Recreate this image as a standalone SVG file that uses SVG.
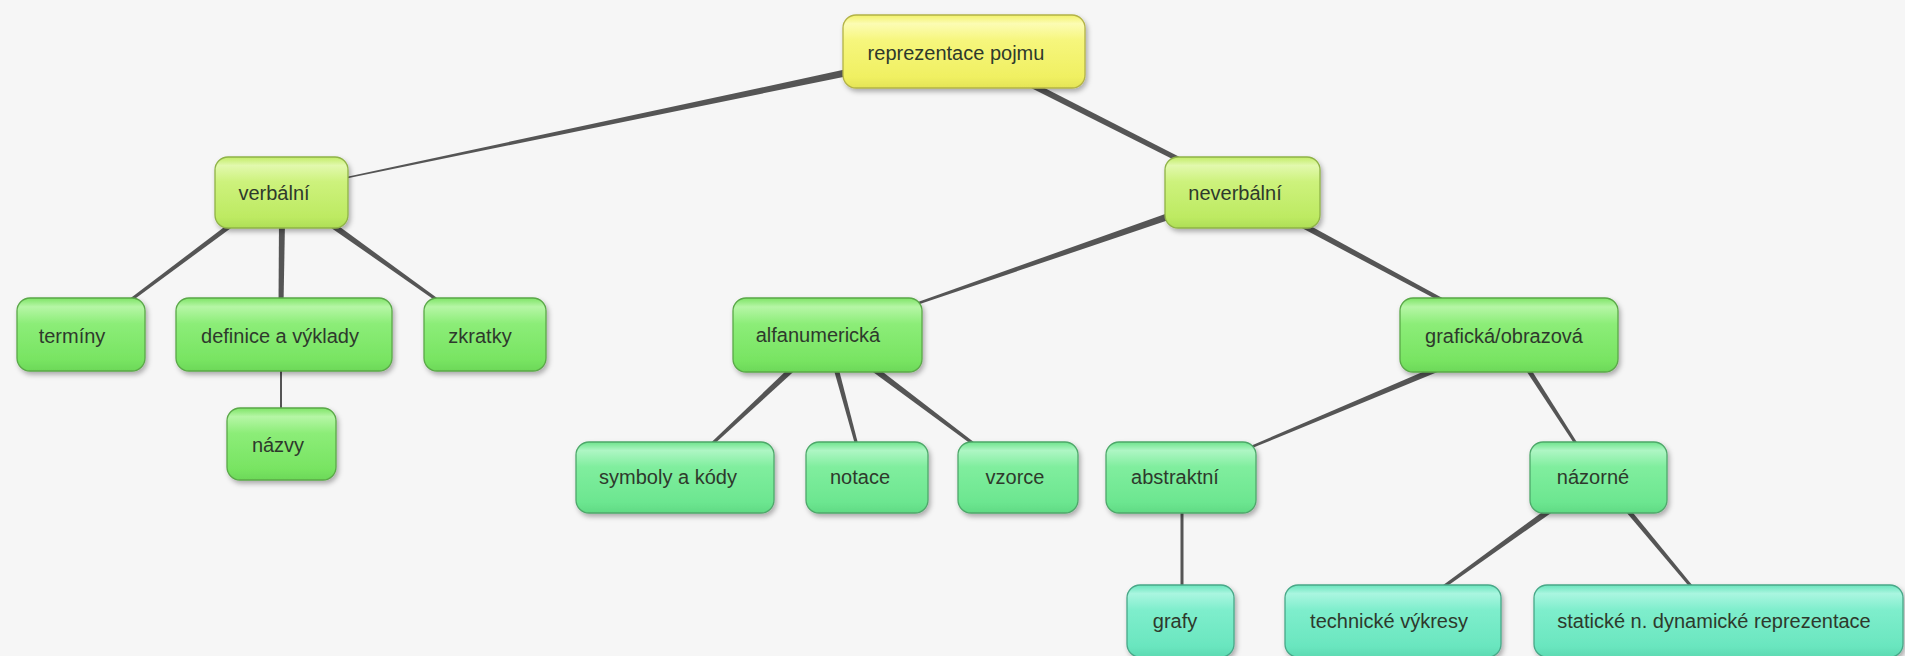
<svg xmlns="http://www.w3.org/2000/svg" width="1905" height="656" viewBox="0 0 1905 656">
<defs>
<linearGradient id="gY" x1="0" y1="0" x2="0" y2="1"><stop offset="0" stop-color="#f2f26a"/><stop offset="0.12" stop-color="#fcfcb4"/><stop offset="0.35" stop-color="#f6f67c"/><stop offset="0.85" stop-color="#f0f062"/><stop offset="1" stop-color="#e4e456"/></linearGradient>
<linearGradient id="g1" x1="0" y1="0" x2="0" y2="1"><stop offset="0" stop-color="#c2ec66"/><stop offset="0.12" stop-color="#e2f9ae"/><stop offset="0.35" stop-color="#cdf27c"/><stop offset="0.85" stop-color="#bdea62"/><stop offset="1" stop-color="#aede56"/></linearGradient>
<linearGradient id="g2" x1="0" y1="0" x2="0" y2="1"><stop offset="0" stop-color="#7ee466"/><stop offset="0.12" stop-color="#b6f6a6"/><stop offset="0.35" stop-color="#8ced78"/><stop offset="0.85" stop-color="#78e462"/><stop offset="1" stop-color="#6cd858"/></linearGradient>
<linearGradient id="g3" x1="0" y1="0" x2="0" y2="1"><stop offset="0" stop-color="#6ee48c"/><stop offset="0.12" stop-color="#aef6c4"/><stop offset="0.35" stop-color="#80ee9e"/><stop offset="0.85" stop-color="#6ce690"/><stop offset="1" stop-color="#60da84"/></linearGradient>
<linearGradient id="g4" x1="0" y1="0" x2="0" y2="1"><stop offset="0" stop-color="#68e4bc"/><stop offset="0.12" stop-color="#aaf6e0"/><stop offset="0.35" stop-color="#7eeecc"/><stop offset="0.85" stop-color="#6ae6bf"/><stop offset="1" stop-color="#5cdab2"/></linearGradient>
<filter id="sh" x="-10%" y="-20%" width="125%" height="150%"><feDropShadow dx="2" dy="3" stdDeviation="2.5" flood-color="#000" flood-opacity="0.3"/></filter>
</defs>
<style>
.box{rx:13px;ry:13px;stroke-width:1.3;filter:url(#sh)}
.y{fill:url(#gY);stroke:#b3b347}
.l1{fill:url(#g1);stroke:#8fb347}
.l2{fill:url(#g2);stroke:#5aa848}
.l3{fill:url(#g3);stroke:#4ea86a}
.l4{fill:url(#g4);stroke:#48a888}
text{font-family:"Liberation Sans",Arial,sans-serif;font-size:20px;fill:#2e392c;text-anchor:middle}
.con polygon{fill:#555}
</style>
<rect width="1905" height="656" fill="#f6f6f6"/>
<g id="connectors" class="con">
<polygon points="849.28,68.57 344.85,177.27 345.15,178.73 850.72,75.43"/>
<polygon points="1028.64,86.68 1178.87,162.23 1181.13,157.77 1031.36,81.32"/>
<polygon points="233.5,220 127.1,300.8 128.9,303.2 236.5,224"/>
<polygon points="279,222 278.5,305 283.5,305 285,222"/>
<polygon points="326.26,224.44 439.13,303.22 440.87,300.78 329.74,219.56"/>
<polygon points="280,365 280,415 282,415 282,365"/>
<polygon points="1170.85,211.89 911.59,304.22 912.41,306.58 1173.15,218.51"/>
<polygon points="1298.58,226.34 1445.05,304.06 1446.95,300.54 1301.42,221.06"/>
<polygon points="792.95,364.21 706.98,446.5 709.02,448.7 797.05,368.59"/>
<polygon points="832.99,366.65 856.15,448.39 859.05,447.61 837.81,365.35"/>
<polygon points="868.2,368.4 978.1,449.2 979.9,446.8 871.8,363.6"/>
<polygon points="1438.84,365.03 1247.52,447.25 1248.48,449.55 1441.16,370.57"/>
<polygon points="1523.9,367.35 1577.74,449.01 1580.26,447.39 1528.1,364.65"/>
<polygon points="1180.5,507 1180.5,591 1183.5,591 1183.5,507"/>
<polygon points="1552.25,504.77 1437.12,589.58 1438.88,592.02 1555.75,509.63"/>
<polygon points="1623.08,508.6 1693.85,591.96 1696.15,590.04 1626.92,505.4"/>
</g>
<g id="n-reprezentace"><rect class="box y" x="843" y="15" width="242" height="73"/><text x="956" y="60">reprezentace pojmu</text></g>
<g id="n-verbalni"><rect class="box l1" x="215" y="157" width="133" height="71"/><text x="274" y="200">verbální</text></g>
<g id="n-neverbalni"><rect class="box l1" x="1165" y="157" width="155" height="71"/><text x="1235" y="200">neverbální</text></g>
<g id="n-terminy"><rect class="box l2" x="17" y="298" width="128" height="73"/><text x="72" y="343">termíny</text></g>
<g id="n-definice"><rect class="box l2" x="176" y="298" width="216" height="73"/><text x="280" y="343">definice a výklady</text></g>
<g id="n-zkratky"><rect class="box l2" x="424" y="298" width="122" height="73"/><text x="480" y="343">zkratky</text></g>
<g id="n-nazvy"><rect class="box l2" x="227" y="408" width="109" height="72"/><text x="278" y="452">názvy</text></g>
<g id="n-alfanumericka"><rect class="box l2" x="733" y="298" width="189" height="74"/><text x="818" y="342">alfanumerická</text></g>
<g id="n-graficka"><rect class="box l2" x="1400" y="298" width="218" height="74"/><text x="1504" y="343">grafická/obrazová</text></g>
<g id="n-symboly"><rect class="box l3" x="576" y="442" width="198" height="71"/><text x="668" y="484">symboly a kódy</text></g>
<g id="n-notace"><rect class="box l3" x="806" y="442" width="122" height="71"/><text x="860" y="484">notace</text></g>
<g id="n-vzorce"><rect class="box l3" x="958" y="442" width="120" height="71"/><text x="1015" y="484">vzorce</text></g>
<g id="n-abstraktni"><rect class="box l3" x="1106" y="442" width="150" height="71"/><text x="1175" y="484">abstraktní</text></g>
<g id="n-nazorne"><rect class="box l3" x="1530" y="442" width="137" height="71"/><text x="1593" y="484">názorné</text></g>
<g id="n-grafy"><rect class="box l4" x="1127" y="585" width="107" height="72"/><text x="1175" y="628">grafy</text></g>
<g id="n-technicke"><rect class="box l4" x="1285" y="585" width="216" height="72"/><text x="1389" y="628">technické výkresy</text></g>
<g id="n-staticke"><rect class="box l4" x="1534" y="585" width="369" height="72"/><text x="1714" y="628">statické n. dynamické reprezentace</text></g>
</svg>
